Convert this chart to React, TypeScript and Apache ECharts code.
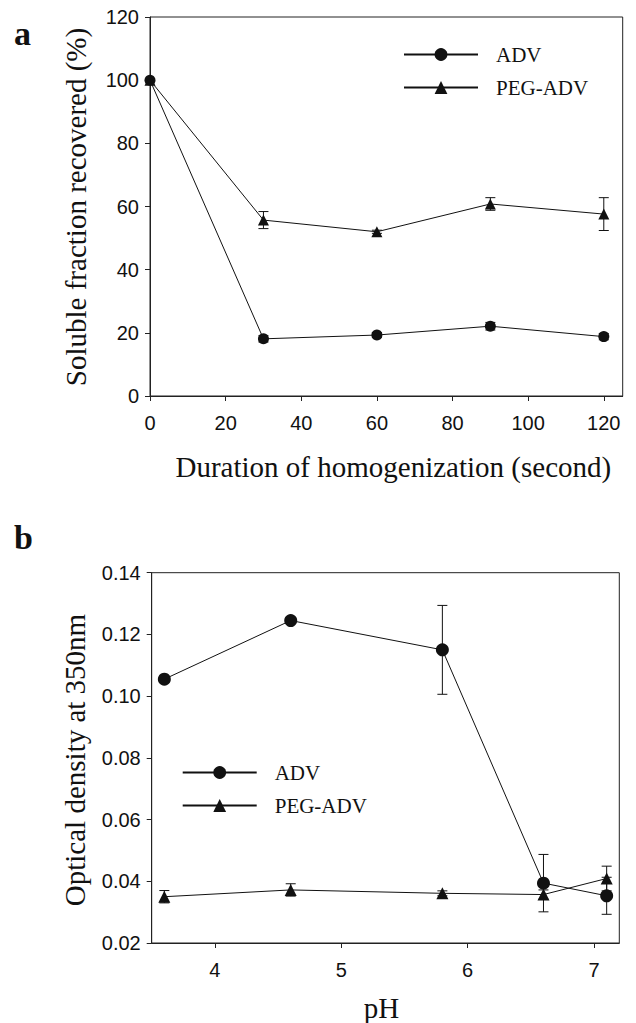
import React, { useEffect, useRef } from "react";
import * as echarts from "echarts";

// Panel a
const timeSec = [0, 30, 60, 90, 120];
const advRecovered = [100, 18.1, 19.3, 22.1, 18.8];
const advRecoveredErr = [0, 1, 0.8, 1.2, 1];
const pegRecovered = [100, 55.7, 52.0, 60.8, 57.6];
const pegRecoveredErr = [0, 2.7, 0.5, 2.0, 5.2];
const timeTicks = [0, 20, 40, 60, 80, 100, 120];

// Panel b
const pH = [3.6, 4.6, 5.8, 6.6, 7.1];
const advOD = [0.1055, 0.1245, 0.115, 0.0394, 0.0353];
const advODErr = [0.001, 0.001, 0.0144, 0.0093, 0.006];
const pegOD = [0.035, 0.0372, 0.0361, 0.0357, 0.0409];
const pegODErr = [0.002, 0.002, 0.0008, 0.0015, 0.004];
const pHTicks = [4, 5, 6, 7];

const seriesNames = ["ADV", "PEG-ADV"];
const yTitleA = "Soluble fraction recovered (%)";
const yTitleB = "Optical density at 350nm";

const INK = "#111";
const SANS = "'Liberation Sans', Arial, sans-serif";
const SERIF = "'Liberation Serif', 'Times New Roman', serif";

const pairs = (xs: number[], ys: number[]) => xs.map((x, i) => [x, ys[i]]);
const errs = (xs: number[], ys: number[], es: number[]) =>
  xs.map((x, i) => [x, ys[i] - es[i], ys[i] + es[i]]);

const errorRender = (cap: number) => (params: any, api: any) => {
  const x = api.value(0);
  const lo = api.value(1);
  const hi = api.value(2);
  const t = api.coord([x, hi]);
  const b = api.coord([x, lo]);
  const st = { stroke: INK, lineWidth: 1 };
  return {
    type: "group",
    children: [
      { type: "line", shape: { x1: t[0], y1: t[1], x2: b[0], y2: b[1] }, style: st },
      { type: "line", shape: { x1: t[0] - cap, y1: t[1], x2: t[0] + cap, y2: t[1] }, style: st },
      { type: "line", shape: { x1: b[0] - cap, y1: b[1], x2: b[0] + cap, y2: b[1] }, style: st },
    ],
  };
};

const tickLabel = () => ({ color: INK, fontFamily: SANS, fontSize: 20 });
const axisLine = () => ({ show: true, lineStyle: { color: "#222", width: 1 } });
const axisTick = () => ({ show: true, length: 5, inside: false, lineStyle: { color: "#222" } });
const nameStyle = (padding?: number[]) => ({
  color: INK,
  fontFamily: SERIF,
  fontSize: 29,
  fontWeight: "normal",
  ...(padding ? { padding } : {}),
});

export default function App() {
  const ref = useRef<HTMLDivElement>(null);
  useEffect(() => {
    if (!ref.current) return;
    const chart = echarts.init(ref.current, undefined, { renderer: "svg" });
    const lineSeries = (
      name: string,
      data: number[][],
      symbol: string,
      size: number,
      idx: number
    ) => ({
      type: "line",
      name,
      data,
      xAxisIndex: idx,
      yAxisIndex: idx,
      symbol,
      symbolSize: size,
      showAllSymbol: true,
      lineStyle: { color: INK, width: 1 },
      itemStyle: { color: INK, borderWidth: 0 },
      z: 3,
      clip: false,
    });
    const errSeries = (name: string, data: number[][], idx: number) => ({
      type: "custom",
      name,
      data,
      xAxisIndex: idx,
      yAxisIndex: idx,
      encode: { x: 0, y: [1, 2] },
      renderItem: errorRender(5),
      z: 2,
      silent: true,
    });
    const legendBase = () => ({
      orient: "vertical",
      itemWidth: 74,
      itemHeight: 16,
      itemGap: 12,
      lineStyle: { width: 2, color: INK },
      itemStyle: { color: INK },
      textStyle: { color: INK, fontFamily: SERIF, fontSize: 21, padding: [0, 0, 0, 13] },
      selectedMode: false,
      data: seriesNames,
    });
    chart.setOption({
      animation: false,
      backgroundColor: "#fff",
      grid: [
        { left: 150, top: 17, width: 472.7, height: 379, show: true, borderColor: "#222", borderWidth: 1, containLabel: false },
        { left: 151.7, top: 572.7, width: 467.6, height: 373.3, show: true, borderColor: "#222", borderWidth: 1, containLabel: false },
      ],
      legend: [
        { ...legendBase(), left: 398, top: 39 },
        { ...legendBase(), left: 176.7, top: 757 },
      ],
      xAxis: [
        {
          type: "value",
          gridIndex: 0,
          min: 0,
          max: 125,
          splitLine: { show: false },
          axisLine: axisLine(),
          axisTick: { ...axisTick(), customValues: timeTicks },
          axisLabel: { ...tickLabel(), margin: 17, customValues: timeTicks },
          name: "Duration of homogenization (second)",
          nameLocation: "middle",
          nameGap: 56,
          nameTextStyle: nameStyle([0, 0, 0, 14]),
        },
        {
          type: "value",
          gridIndex: 1,
          min: 3.5,
          max: 7.2,
          splitLine: { show: false },
          axisLine: axisLine(),
          axisTick: { ...axisTick(), customValues: pHTicks },
          axisLabel: { ...tickLabel(), margin: 17, customValues: pHTicks },
          name: "pH",
          nameLocation: "middle",
          nameGap: 50,
          nameTextStyle: nameStyle([0, 8, 0, 0]),
        },
      ],
      yAxis: [
        {
          type: "value",
          gridIndex: 0,
          min: 0,
          max: 120,
          interval: 20,
          splitLine: { show: false },
          axisLine: axisLine(),
          axisTick: axisTick(),
          axisLabel: { ...tickLabel(), margin: 11 },
        },
        {
          type: "value",
          gridIndex: 1,
          min: 0.02,
          max: 0.14,
          interval: 0.02,
          splitLine: { show: false },
          axisLine: axisLine(),
          axisTick: axisTick(),
          axisLabel: { ...tickLabel(), margin: 11, formatter: (v: number) => v.toFixed(2) },
        },
      ],
      series: [
        errSeries("ADV error a", errs(timeSec, advRecovered, advRecoveredErr), 0),
        errSeries("PEG-ADV error a", errs(timeSec, pegRecovered, pegRecoveredErr), 0),
        lineSeries("ADV", pairs(timeSec, advRecovered), "circle", 11, 0),
        lineSeries("PEG-ADV", pairs(timeSec, pegRecovered), "triangle", 11, 0),
        errSeries("ADV error b", errs(pH, advOD, advODErr), 1),
        errSeries("PEG-ADV error b", errs(pH, pegOD, pegODErr), 1),
        lineSeries("ADV", pairs(pH, advOD), "circle", 13, 1),
        lineSeries("PEG-ADV", pairs(pH, pegOD), "triangle", 12, 1),
      ],
      graphic: [
        {
          type: "text",
          left: 14,
          top: 16,
          style: { text: "a", font: `bold 34px ${SERIF}`, fill: INK },
        },
        {
          type: "text",
          left: 14,
          top: 520,
          style: { text: "b", font: `bold 34px ${SERIF}`, fill: INK },
        },
        {
          type: "text",
          x: 76,
          y: 207,
          rotation: Math.PI / 2,
          style: {
            text: yTitleA,
            font: `normal 29px ${SERIF}`,
            fill: INK,
            align: "center",
            verticalAlign: "middle",
          },
        },
        {
          type: "text",
          x: 75,
          y: 760,
          rotation: Math.PI / 2,
          style: {
            text: yTitleB,
            font: `normal 29px ${SERIF}`,
            fill: INK,
            align: "center",
            verticalAlign: "middle",
          },
        },
      ],
    });
    return () => chart.dispose();
  }, []);
  return (
    <div
      ref={ref}
      style={{ position: "fixed", left: 0, top: 0, width: 636, height: 1023, background: "#fff" }}
    />
  );
}
